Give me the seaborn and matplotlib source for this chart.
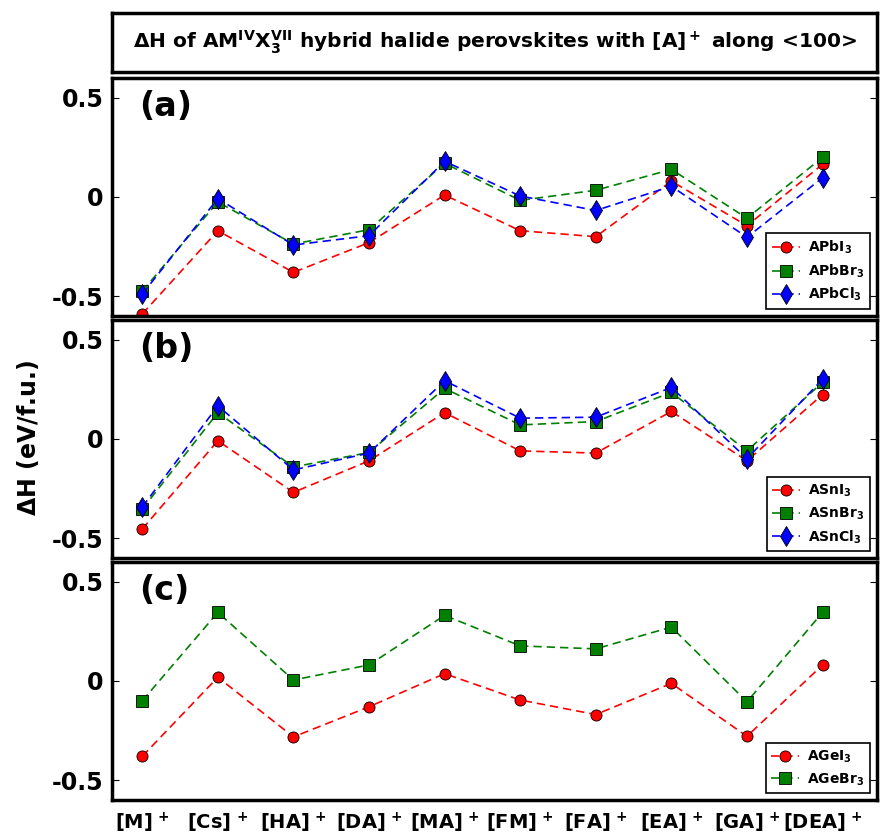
import numpy as np
import pandas as pd
import seaborn as sns
import matplotlib.pyplot as plt

cations = ['[M]', '[Cs]', '[HA]', '[DA]', '[MA]', '[FM]', '[FA]', '[EA]', '[GA]', '[DEA]']

# (a) Pb
pb_i = [-0.59, -0.17, -0.38, -0.23, 0.01, -0.17, -0.20, 0.08, -0.145, 0.165]
pb_br = [-0.475, -0.025, -0.237, -0.165, 0.17, -0.017, 0.034, 0.139, -0.107, 0.20]
pb_cl = [-0.49, -0.008, -0.242, -0.195, 0.18, 0.005, -0.068, 0.054, -0.203, 0.097]

# (b) Sn
sn_i = [-0.454, -0.009, -0.269, -0.11, 0.133, -0.06, -0.071, 0.139, -0.11, 0.224]
sn_br = [-0.354, 0.133, -0.141, -0.068, 0.255, 0.071, 0.088, 0.235, -0.06, 0.286]
sn_cl = [-0.343, 0.167, -0.156, -0.071, 0.294, 0.105, 0.11, 0.26, -0.099, 0.301]

# (c) Ge
ge_i = [-0.38, 0.019, -0.282, -0.13, 0.037, -0.096, -0.169, -0.012, -0.279, 0.081]
ge_br = [-0.10, 0.346, 0.005, 0.081, 0.331, 0.177, 0.162, 0.272, -0.105, 0.346]

panels = [
    ('(a)', [('APbI$_3$', pb_i), ('APbBr$_3$', pb_br), ('APbCl$_3$', pb_cl)]),
    ('(b)', [('ASnI$_3$', sn_i), ('ASnBr$_3$', sn_br), ('ASnCl$_3$', sn_cl)]),
    ('(c)', [('AGeI$_3$', ge_i), ('AGeBr$_3$', ge_br)]),
]
series_style = [('red', 'o', 8), ('green', 's', 8), ('blue', 'd', 10)]

sns.set_style('ticks')
plt.rcParams['font.family'] = ['DejaVu Sans']
plt.rcParams['font.weight'] = 'bold'
plt.rcParams['mathtext.default'] = 'bf'
for k in ['text.color', 'axes.labelcolor', 'xtick.color', 'ytick.color']:
    plt.rcParams[k] = 'black'

fig = plt.figure(figsize=(8.81, 8.36), dpi=100)

W = 881.0
H = 836.0
left = 112 / W
width = (877 - 112) / W

# title box
tax = fig.add_axes([left, 1 - 72 / H, width, 59 / H])
tax.set_xticks([])
tax.set_yticks([])
for s in tax.spines.values():
    s.set_linewidth(2.5)
    s.set_color('black')
tax.text(0.5, 0.5, r'$\Delta$H of AM$^{IV}$X$_3^{VII}$ hybrid halide perovskites with [A]$^+$ along <100>',
         ha='center', va='center', fontsize=14.5, fontweight='bold', transform=tax.transAxes)

tops = [78, 320, 562]
h_ax = 238
xpos = np.arange(len(cations))

axes = []
for (tag, series), top in zip(panels, tops):
    ax = fig.add_axes([left, 1 - (top + h_ax) / H, width, h_ax / H])
    axes.append(ax)
    for (lab, vals), (col, mk, ms) in zip(series, series_style):
        df = pd.DataFrame({'x': xpos, 'y': vals})
        sns.lineplot(data=df, x='x', y='y', ax=ax, color=col, marker=mk, markersize=ms,
                     markeredgecolor='black', markeredgewidth=0.6,
                     linewidth=1.2, label=lab)
    for line in ax.lines:
        line.set_dashes((5, 3))
    ax.set_xlim(-0.4, 9.72)
    ax.set_ylim(-0.6, 0.6)
    ax.set_yticks([-0.5, 0, 0.5])
    ax.set_yticklabels(['-0.5', '0', '0.5'], fontsize=17, fontweight='bold')
    ax.tick_params(axis='y', direction='in', length=5, width=0.8, right=True, pad=6)
    ax.set_xticks(xpos)
    ax.tick_params(axis='x', length=0)
    ax.set_xlabel('')
    ax.set_ylabel('')
    for s in ax.spines.values():
        s.set_linewidth(2.5)
        s.set_color('black')
    ax.text(0.035, 0.95, tag, transform=ax.transAxes, fontsize=24, fontweight='bold',
            ha='left', va='top')
    leg = ax.legend(loc='lower right', fontsize=10, frameon=True, fancybox=False,
                    borderaxespad=0.5, handlelength=2.0, borderpad=0.4, labelspacing=0.45,
                    handletextpad=0.6)
    leg.get_frame().set_edgecolor('black')
    leg.get_frame().set_linewidth(1.2)
    leg.get_frame().set_alpha(1)

for ax in axes[:2]:
    ax.set_xticklabels([])
axes[2].set_xticklabels([c + r'$^{\,+}$' for c in cations], fontsize=14, fontweight='bold')
axes[2].tick_params(axis='x', pad=8)

fig.text(0.032, 1 - 438 / H, r'$\Delta$H (eV/f.u.)', rotation=90, ha='center', va='center',
         fontsize=17, fontweight='bold')

fig.savefig('out.png', dpi=100)
